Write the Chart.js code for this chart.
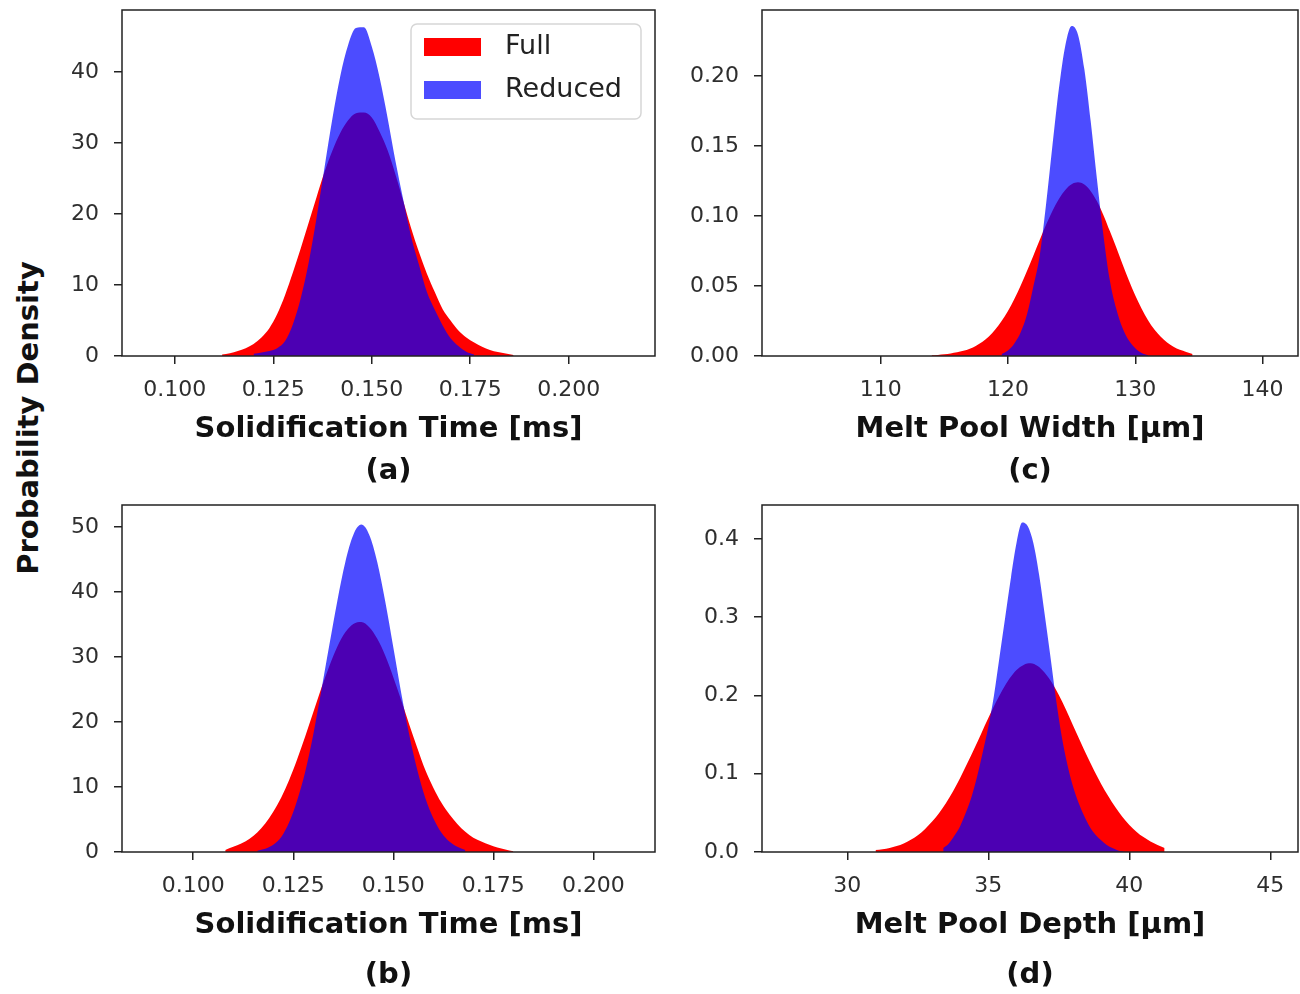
<!DOCTYPE html>
<html>
<head>
<meta charset="utf-8">
<script src="https://cdn.jsdelivr.net/npm/chart.js@4.4.0/dist/chart.umd.min.js"></script>
<style>
  body { margin: 0; background: #fff; }
  #page { position: relative; width: 1300px; height: 994px; overflow: hidden; }
  #page canvas { position: absolute; }
  #ylabel {
    position: absolute; left: 28px; top: 418px;
    transform: translate(-50%, -50%) rotate(-90deg);
    font: bold 29px "DejaVu Sans"; color: #111; white-space: nowrap;
  }
</style>
</head>
<body>
<div id="page">
  <div id="ylabel">Probability Density</div>
  <canvas id="chartA" width="640" height="490" style="left:40px;top:0px"></canvas>
  <canvas id="chartC" width="620" height="490" style="left:680px;top:0px"></canvas>
  <canvas id="chartB" width="640" height="499" style="left:40px;top:495px"></canvas>
  <canvas id="chartD" width="620" height="499" style="left:680px;top:495px"></canvas>
</div>
<script>
// ---- data (bin start, bin width, bin heights) ----
const seriesNames = ["Full", "Reduced"];

// (a) solidification time, top row
const timeBinWidth = 0.002;
const timeA_fullStart = 0.112;
const timeA_full = [0.2, 0.4, 0.7, 1.1, 1.7, 2.6, 3.9, 5.9, 8.6, 11.8, 15.2, 18.8, 22.4, 25.9, 28.9,
  31.4, 33.2, 34.2, 34.3, 33.6, 31.6, 29.0, 25.6, 21.8, 18.0, 14.6, 11.6, 9.0, 6.6, 5.0, 3.6, 2.6,
  1.9, 1.3, 0.85, 0.55, 0.35, 0.15];
const timeA_reducedStart = 0.120;
const timeA_reduced = [0.3, 0.5, 0.7, 1.1, 2.1, 4.5, 8.2, 13.2, 19.5, 26.5, 33.4, 39.4, 43.8, 46.2,
  46.3, 43.6, 39.2, 33.6, 27.5, 22.0, 16.8, 12.8, 9.0, 6.5, 4.3, 2.5, 1.4, 0.6, 0.2];

// (b) solidification time, bottom row
const timeB_fullStart = 0.108;
const timeB_full = [0.3, 0.8, 1.3, 2.0, 3.0, 4.4, 6.2, 8.4, 11.1, 14.3, 17.8, 21.5, 25.2, 28.6, 31.6,
  33.8, 35.1, 35.4, 34.6, 32.8, 30.2, 26.9, 23.3, 19.6, 16.0, 12.6, 9.9, 7.6, 5.8, 4.3, 3.1, 2.2,
  1.6, 1.1, 0.7, 0.4, 0.1];
const timeB_reducedStart = 0.116;
const timeB_reduced = [0.2, 0.5, 1.1, 2.3, 4.6, 8.0, 12.4, 18.1, 24.8, 31.8, 38.6, 44.6, 48.8, 50.4,
  48.8, 44.6, 38.5, 31.5, 24.4, 18.0, 12.6, 8.3, 5.2, 3.0, 1.6, 0.8, 0.3];

// (c) melt pool width
const widthBinWidth = 0.5;
const width_fullStart = 114.0;
const width_full = [0.0005, 0.0008, 0.0012, 0.0018, 0.0026, 0.0037, 0.0052, 0.0074, 0.0102, 0.0140,
  0.0189, 0.0250, 0.0322, 0.0407, 0.0504, 0.0608, 0.0718, 0.0830, 0.0939, 0.1038, 0.1122, 0.1186,
  0.1226, 0.1240, 0.1224, 0.1177, 0.1103, 0.1006, 0.0892, 0.0777, 0.0655, 0.0539, 0.0432, 0.0338,
  0.0256, 0.0190, 0.0138, 0.0097, 0.0066, 0.0044, 0.0029, 0.0015];
const width_reducedStart = 119.5;
const width_reduced = [0.0015, 0.0040, 0.0090, 0.0170, 0.0300, 0.0500, 0.0722, 0.109, 0.151, 0.191,
  0.2216, 0.2356, 0.2295, 0.2047, 0.1675, 0.1254, 0.0861, 0.0541, 0.034, 0.020, 0.011, 0.0055,
  0.0022, 0.0006];

// (d) melt pool depth
const depth_fullStart = 31.0;
const depth_fullBin = 0.25;
const depth_full = [0.0025, 0.0036, 0.0052, 0.0076, 0.0110, 0.0155, 0.0215, 0.0292, 0.0385, 0.0495,
  0.0625, 0.0775, 0.0945, 0.1130, 0.1320, 0.1515, 0.1710, 0.1900, 0.2070, 0.2215, 0.2325, 0.2390,
  0.2410, 0.2375, 0.2290, 0.2165, 0.2005, 0.1820, 0.1620, 0.1420, 0.1225, 0.1040, 0.0870, 0.0715,
  0.0575, 0.0450, 0.0345, 0.0260, 0.0190, 0.0135, 0.0090, 0.0050];
const depth_reducedStart = 33.4;
const depth_reducedBin = 0.2;
const depth_reduced = [0.005, 0.011, 0.021, 0.033, 0.050, 0.070, 0.096, 0.127, 0.160, 0.200, 0.250,
  0.300, 0.350, 0.395, 0.421, 0.416, 0.394, 0.354, 0.303, 0.250, 0.195, 0.148, 0.112, 0.084, 0.063,
  0.046, 0.032, 0.022, 0.015, 0.009, 0.005, 0.002, 0.0005];

// tick labels
const timeTicks = [0.100, 0.125, 0.150, 0.175, 0.200];
const widthTicks = [110, 120, 130, 140];
const depthTicks = [30, 35, 40, 45];
const densityTicksA = [0, 10, 20, 30, 40];
const densityTicksB = [0, 10, 20, 30, 40, 50];
const densityTicksC = [0, 0.05, 0.10, 0.15, 0.20];
const densityTicksD = [0, 0.1, 0.2, 0.3, 0.4];

Chart.defaults.font.family = '"DejaVu Sans"';

const RED = "rgb(255, 0, 0)";
const BLUE = "rgba(0, 0, 255, 0.7)";

const toPoints = (start, bin, heights) =>
  heights.map((h, i) => ({ x: +(start + i * bin).toFixed(4), y: h }));

// black box round the plot area, like matplotlib spines
const framePlugin = {
  id: "frame",
  afterDatasetsDraw(chart) {
    const { ctx, chartArea: a } = chart;
    ctx.save();
    ctx.strokeStyle = "#222";
    ctx.lineWidth = 1.5;
    ctx.strokeRect(a.left, a.top, a.right - a.left, a.bottom - a.top);
    ctx.restore();
  }
};

// legend box inside the top right corner of panel (a)
const boxLegendPlugin = {
  id: "boxLegend",
  afterDraw(chart, args, opts) {
    if (!opts.show) return;
    const { ctx, chartArea } = chart;
    const w = 230, h = 95;
    const x = chartArea.right - 14 - w;
    const y = chartArea.top + 14;
    ctx.save();
    ctx.beginPath();
    ctx.roundRect(x, y, w, h, 6);
    ctx.fillStyle = "rgba(255,255,255,0.8)";
    ctx.fill();
    ctx.strokeStyle = "#d6d6d6";
    ctx.lineWidth = 1.5;
    ctx.stroke();
    chart.data.datasets.forEach((ds, i) => {
      const rowY = y + 23 + i * 43;
      ctx.fillStyle = ds.backgroundColor;
      ctx.fillRect(x + 13, rowY - 9, 57, 18);
      ctx.fillStyle = "#222";
      ctx.font = '27px "DejaVu Sans"';
      ctx.textBaseline = "middle";
      ctx.fillText(ds.label, x + 94, rowY);
    });
    ctx.restore();
  }
};

function histChart(id, c) {
  const tickGrid = { drawOnChartArea: false, tickLength: 8, color: "#222", lineWidth: 1.5 };
  return new Chart(document.getElementById(id), {
    type: "line",
    data: {
      datasets: [
        { label: seriesNames[0], data: c.full, backgroundColor: RED, borderColor: "transparent",
          fill: "origin", order: 2 },
        { label: seriesNames[1], data: c.reduced, backgroundColor: BLUE, borderColor: "transparent",
          fill: "origin", order: 1 }
      ]
    },
    options: {
      responsive: false,
      animation: false,
      layout: { padding: { top: 10, right: c.padRight, bottom: 1.6, left: 0 } },
      elements: {
        point: { radius: 0 },
        line: { borderWidth: 0, cubicInterpolationMode: "monotone" }
      },
      plugins: {
        legend: { display: false },
        tooltip: { enabled: false },
        title: {
          display: true, position: "bottom", fullSize: false, text: c.panel, color: "#111",
          font: { size: 29, weight: "bold" }, padding: { top: c.panelGap, bottom: 0 }
        },
        boxLegend: { show: !!c.legend }
      },
      scales: {
        x: {
          type: "linear", min: c.xMin, max: c.xMax,
          afterBuildTicks: (s) => { s.ticks = c.xTicks.map((v) => ({ value: v })); },
          afterFit: (s) => { s.height = 91; },
          border: { display: false },
          grid: tickGrid,
          ticks: { font: { size: 22 }, color: "#2e2e2e", padding: 13, maxRotation: 0, autoSkip: false,
            callback: (v) => v.toFixed(c.xDec) },
          title: { display: true, text: c.xTitle, color: "#111", font: { size: 29, weight: "bold" },
            padding: { top: 0, bottom: 0 } }
        },
        y: {
          min: 0, max: c.yMax,
          afterBuildTicks: (s) => { s.ticks = c.yTicks.map((v) => ({ value: v })); },
          afterFit: (s) => { s.width = 82; s.paddingTop = 0; s.paddingBottom = 0; },
          border: { display: false },
          grid: tickGrid,
          ticks: { font: { size: 22 }, color: "#2e2e2e", padding: 15, autoSkip: false,
            callback: (v) => v.toFixed(c.yDec) }
        }
      }
    },
    plugins: [framePlugin, boxLegendPlugin]
  });
}

histChart("chartA", {
  panel: "(a)", panelGap: 6.6, padRight: 25, legend: true,
  full: toPoints(timeA_fullStart, timeBinWidth, timeA_full),
  reduced: toPoints(timeA_reducedStart, timeBinWidth, timeA_reduced),
  xMin: 0.0866, xMax: 0.2219, xTicks: timeTicks, xDec: 3, xTitle: "Solidification Time [ms]",
  yMax: 48.73, yTicks: densityTicksA, yDec: 0
});

histChart("chartB", {
  panel: "(b)", panelGap: 14.6, padRight: 25,
  full: toPoints(timeB_fullStart, timeBinWidth, timeB_full),
  reduced: toPoints(timeB_reducedStart, timeBinWidth, timeB_reduced),
  xMin: 0.0822, xMax: 0.2154, xTicks: timeTicks, xDec: 3, xTitle: "Solidification Time [ms]",
  yMax: 53.4, yTicks: densityTicksB, yDec: 0
});

histChart("chartC", {
  panel: "(c)", panelGap: 6.6, padRight: 2,
  full: toPoints(width_fullStart, widthBinWidth, width_full),
  reduced: toPoints(width_reducedStart, widthBinWidth, width_reduced),
  xMin: 100.68, xMax: 142.78, xTicks: widthTicks, xDec: 0, xTitle: "Melt Pool Width [μm]",
  yMax: 0.2471, yTicks: densityTicksC, yDec: 2
});

histChart("chartD", {
  panel: "(d)", panelGap: 14.6, padRight: 2,
  full: toPoints(depth_fullStart, depth_fullBin, depth_full),
  reduced: toPoints(depth_reducedStart, depth_reducedBin, depth_reduced),
  xMin: 26.975, xMax: 45.98, xTicks: depthTicks, xDec: 0, xTitle: "Melt Pool Depth [μm]",
  yMax: 0.4432, yTicks: densityTicksD, yDec: 1
});
</script>
</body>
</html>
